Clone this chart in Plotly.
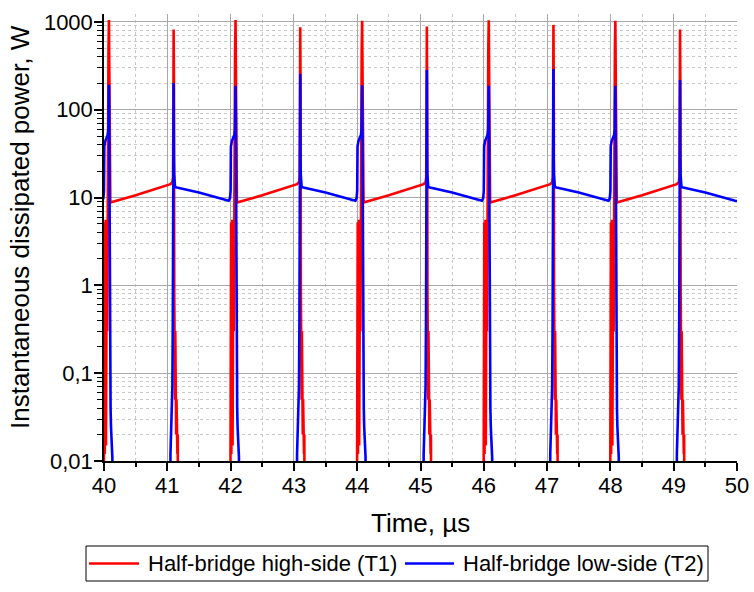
import plotly.graph_objects as go

# ---- data ----
# switching events (µs): T1 turn-on / T2 turn-off, and T1 turn-off / T2 turn-on
t1_on_start = [40.0, 42.0, 44.0, 46.0, 48.0]
t1_off_start = [41.05, 43.05, 45.05, 47.05, 49.05]
# spike peaks (W) for each event
t1_on_peak = [1050, 1050, 1030, 1045, 1030]
t1_off_peak = [817, 870, 885, 925, 817]
t2_off_peak = [192, 188, 190, 188, 188]
t2_on_peak = [202, 256, 284, 291, 218]

# waveform shapes: time offset after event (µs), power (W); None = event peak
t1_on_dt = [-0.005, 0.0, 0.004, 0.008, 0.012, 0.016, 0.021, 0.026, 0.031, 0.036, 0.041,
            0.046, 0.051, 0.056, 0.061, 0.066, 0.071, 0.078, 0.083, 0.09, 0.1, 0.5]
t1_on_p = [0.001, 3.5, 0.009, 5.2, 0.012, 4.8, 0.02, 5.6, 0.015, 5.0, 0.04,
           5.5, 0.3, 4.5, 1.5, 5.0, 480, None, 400, 25, 8.8, 10.6]

t1_off_dt = [0.0, 0.03, 0.04, 0.045, 0.05, 0.055, 0.06, 0.064, 0.068, 0.072, 0.076,
             0.08, 0.085, 0.09, 0.095, 0.1, 0.105, 0.11, 0.115, 0.12]
t1_off_p = [14.2, 15, 17, 60, None, 200, 0.8, 0.1, 0.6, 0.05, 0.3,
            0.03, 0.07, 0.02, 0.05, 0.013, 0.03, 0.012, 0.02, 0.001]

t2_off_dt = [-0.03, -0.01, 0.0, 0.005, 0.02, 0.04, 0.06, 0.07, 0.078, 0.084, 0.088,
             0.093, 0.098, 0.104, 0.11, 0.118, 0.125, 0.132, 0.137]
t2_off_p = [9.2, 9.8, 12, 38, 44, 48, 52, 60, None, 40, 3,
            0.4, 0.08, 0.04, 0.025, 0.02, 0.015, 0.011, 0.001]

t2_on_dt = [-0.005, 0.0, 0.01, 0.02, 0.03, 0.037, 0.043, 0.05, 0.054, 0.058, 0.064,
            0.072, 0.1, 0.45, 0.92]
t2_on_p = [0.001, 0.012, 0.025, 0.03, 0.07, 0.4, 4, None, 30, 18.5, 15,
           13.2, 13.0, 11.4, 9.2]

t2_end_t = [50.0]
t2_end_p = [9.1]

series_names = ["Half-bridge high-side (T1)", "Half-bridge low-side (T2)"]
series_colors = ["#ff0000", "#0000ff"]
y_tickvals = [0.01, 0.1, 1, 10, 100, 1000]
y_ticktext = ["0,01", "0,1", "1", "10", "100", "1000"]
x_tickvals = [40, 41, 42, 43, 44, 45, 46, 47, 48, 49, 50]
x_title = "Time, µs"
y_title = "Instantaneous dissipated power, W"


def place(t0, dts, ps, peak, xs, ys):
    for d, p in zip(dts, ps):
        xs.append(t0 + d)
        ys.append(peak if p is None else p)


t1_x, t1_y = [], []
t2_x, t2_y = [], []
for i in range(len(t1_on_start)):
    place(t1_on_start[i], t1_on_dt, t1_on_p, t1_on_peak[i], t1_x, t1_y)
    place(t1_off_start[i], t1_off_dt, t1_off_p, t1_off_peak[i], t1_x, t1_y)
    place(t1_on_start[i], t2_off_dt, t2_off_p, t2_off_peak[i], t2_x, t2_y)
    place(t1_off_start[i], t2_on_dt, t2_on_p, t2_on_peak[i], t2_x, t2_y)
t2_x += t2_end_t
t2_y += t2_end_p

minor_y = [m * 10 ** e for e in range(-2, 3) for m in range(2, 10)]

fig = go.Figure()
fig.add_trace(go.Scatter(x=t1_x, y=t1_y, mode="lines", name=series_names[0],
                         line=dict(color=series_colors[0], width=2.6)))
fig.add_trace(go.Scatter(x=t2_x, y=t2_y, mode="lines", name=series_names[1],
                         line=dict(color=series_colors[1], width=2.6)))

font_family = "Liberation Sans, Arial, sans-serif"

# plot area in pixels: left 104, right 737, top 14, bottom 461
L, R, T, B = 104, 737, 14, 461


def px(x):
    return (x - L) / (R - L)


def py(y):
    return (B - y) / (B - T)


LEG_TOP, LEG_BOT = 546, 581
LEG_MID = (LEG_TOP + LEG_BOT) / 2
shapes = [
    # legend frame
    dict(type="rect", xref="paper", yref="paper", x0=px(86), x1=px(708), y0=py(LEG_BOT), y1=py(LEG_TOP),
         line=dict(color="black", width=1), fillcolor="white", layer="above"),
    dict(type="line", xref="paper", yref="paper", x0=px(89), x1=px(139), y0=py(LEG_MID), y1=py(LEG_MID),
         line=dict(color=series_colors[0], width=2.6), layer="above"),
    dict(type="line", xref="paper", yref="paper", x0=px(405), x1=px(454), y0=py(LEG_MID), y1=py(LEG_MID),
         line=dict(color=series_colors[1], width=2.6), layer="above"),
]
annotations = [
    dict(text=series_names[0], xref="paper", yref="paper", x=px(146), y=py(LEG_MID),
         xanchor="left", yanchor="middle", showarrow=False, font=dict(size=22)),
    dict(text=series_names[1], xref="paper", yref="paper", x=px(461), y=py(LEG_MID),
         xanchor="left", yanchor="middle", showarrow=False, font=dict(size=22)),
    dict(text=x_title, xref="paper", yref="paper", x=0.5, y=py(523),
         xanchor="center", yanchor="middle", showarrow=False, font=dict(size=26)),
    dict(text=y_title, xref="paper", yref="paper", x=px(20), y=py(227), textangle=-90,
         xanchor="center", yanchor="middle", showarrow=False, font=dict(size=26)),
]

fig.update_layout(
    width=754, height=592,
    margin=dict(l=L, r=754 - R, t=T, b=592 - B, autoexpand=False),
    paper_bgcolor="white", plot_bgcolor="white",
    font=dict(family=font_family, color="black", size=22),
    showlegend=False,
    shapes=shapes,
    annotations=annotations,
)
fig.update_xaxes(
    range=[40, 50], tickmode="array", tickvals=x_tickvals, automargin=False,
    ticks="outside", ticklen=8, tickwidth=1.5, tickcolor="black",
    showline=True, linecolor="black", linewidth=1.5,
    showgrid=True, gridcolor="#a8a8a8", gridwidth=1, zeroline=False,
    tickfont=dict(size=22), ticklabelstandoff=-4,
    minor=dict(tickmode="linear", tick0=40.5, dtick=1, ticks="outside", ticklen=4,
               tickcolor="black", tickwidth=1.5, showgrid=True, gridcolor="#c8c8c8",
               griddash="dot", gridwidth=1),
)
fig.update_yaxes(
    type="log", range=[-2, 3.09], tickmode="array", tickvals=y_tickvals, ticktext=y_ticktext,
    automargin=False,
    ticks="outside", ticklen=8, tickwidth=1.5, tickcolor="black",
    showline=True, linecolor="black", linewidth=1.5,
    showgrid=True, gridcolor="#a8a8a8", gridwidth=1, zeroline=False,
    tickfont=dict(size=22), ticklabelstandoff=-3,
    minor=dict(tickmode="array", tickvals=minor_y, ticks="outside", ticklen=5,
               tickcolor="black", tickwidth=1.2, showgrid=True, gridcolor="#c8c8c8",
               griddash="dot", gridwidth=1),
)

fig.write_html("out.html", config={"displayModeBar": False},
               post_script="document.body.style.margin='0px';document.body.style.overflow='hidden';")
